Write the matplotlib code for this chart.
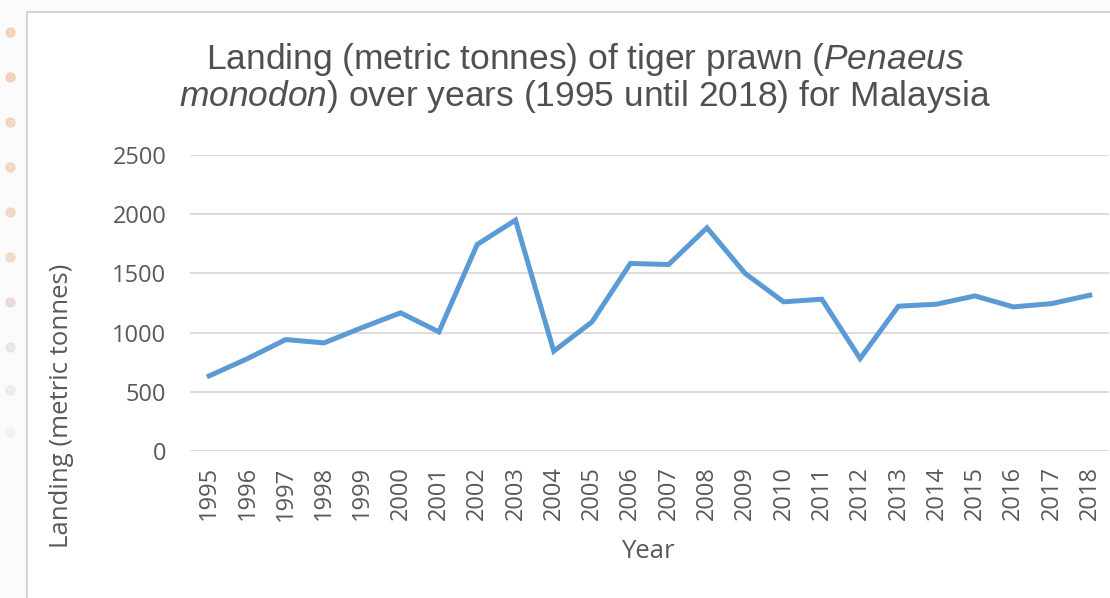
import matplotlib
matplotlib.use("Agg")
import matplotlib.pyplot as plt
from matplotlib.lines import Line2D
from matplotlib.patches import Rectangle

# Landing of tiger prawn in Malaysia, metric tonnes
years = [str(y) for y in range(1995, 2019)]
landing = [634, 780, 941, 913, 1043, 1167, 1006, 1744, 1950, 843,
           1091, 1584, 1575, 1885, 1499, 1260, 1282, 781, 1223, 1240,
           1310, 1217, 1245, 1316]
y_ticks = [0, 500, 1000, 1500, 2000, 2500]

plt.rcParams["mathtext.fontset"] = "custom"
plt.rcParams["mathtext.rm"] = "Liberation Sans"
plt.rcParams["mathtext.it"] = "Liberation Sans:italic"

W, H = 1110, 598
fig = plt.figure(figsize=(W / 100, H / 100), dpi=100)
fig.patch.set_facecolor("white")

# page strip outside the chart frame
fig.add_artist(Rectangle((0, 0), 27 / W, 1, transform=fig.transFigure,
                         facecolor="#fbfbfb", edgecolor="none", zorder=0))
fig.add_artist(Rectangle((0, 1 - 12 / H), 1, 12 / H, transform=fig.transFigure,
                         facecolor="#fbfbfb", edgecolor="none", zorder=0))
fig.add_artist(Line2D([27 / W, 27 / W], [0, 1 - 12 / H], transform=fig.transFigure,
                      color="#d2d2d2", lw=1.3))
fig.add_artist(Line2D([27 / W, 1], [1 - 12 / H, 1 - 12 / H], transform=fig.transFigure,
                      color="#d2d2d2", lw=1.3))
dot_y = [32, 77, 122, 167, 212, 257, 302, 347, 390, 432]
dot_c = ["#f2c9a8", "#f2c4ae", "#f2cbb4", "#f2cdb8", "#f2d0b8", "#f2d4b8",
         "#e8d0d8", "#e4e0ea", "#e8e8ee", "#f0f0f2"]
for yy, cc in zip(dot_y, dot_c):
    fig.add_artist(Line2D([10 / W], [1 - yy / H], transform=fig.transFigure,
                          marker="o", markersize=6.5, color=cc, alpha=0.75, lw=0))

ax = fig.add_axes([190 / W, 1 - 451 / H, 919 / W, (451 - 155) / H])
x = list(range(len(years)))
ax.plot(x, landing, color="#5b9bd5", lw=3.6, solid_joinstyle="miter", zorder=3)

ax.set_xlim(-0.5, len(years) - 0.5)
ax.set_ylim(0, 2500)
ax.set_yticks(y_ticks)
ax.set_xticks(x)
ax.set_xticklabels(years, rotation=90, fontfamily="Open Sans", fontsize=17,
                   color="#595959")
ax.set_yticklabels([str(v) for v in y_ticks], fontfamily="Open Sans",
                   fontsize=17, color="#595959")
ax.tick_params(axis="both", length=0)
ax.tick_params(axis="y", pad=17)
ax.tick_params(axis="x", pad=11)
ax.grid(axis="y", color="#d9d9d9", lw=1.3)
ax.set_axisbelow(True)
for s in ax.spines.values():
    s.set_visible(False)

fig.text(62 / W, 1 - 406 / H, "Landing (metric tonnes)", rotation=90,
         ha="center", va="center", fontfamily="Open Sans", fontsize=18.5,
         color="#595959")
fig.text(648 / W, 1 - 551 / H, "Year", ha="center", va="center",
         fontfamily="Open Sans", fontsize=18.5, color="#595959")

fig.text(585 / W, 1 - 78 / H,
         "Landing (metric tonnes) of tiger prawn ($\\mathit{Penaeus}$\n"
         "$\\mathit{monodon}$) over years (1995 until 2018) for Malaysia",
         ha="center", va="center", fontfamily="Liberation Sans", fontsize=25.5,
         color="#505050", linespacing=1.0)

fig.savefig("out.png", dpi=100, facecolor="white")
